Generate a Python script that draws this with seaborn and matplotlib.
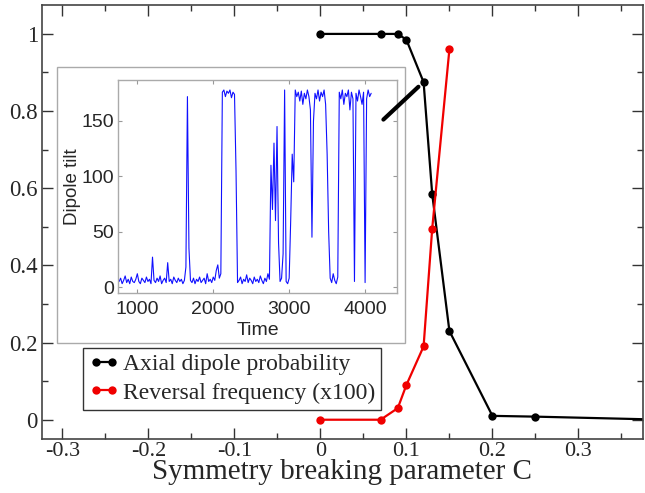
import numpy as np
import pandas as pd
import seaborn as sns
import matplotlib.pyplot as plt
from matplotlib.patches import Rectangle
from matplotlib.ticker import MultipleLocator

# main curves
c_axial = [0.0, 0.07, 0.09, 0.10, 0.12, 0.13, 0.15, 0.20, 0.25, 0.40]
p_axial = [1.0, 1.0, 1.0, 0.985, 0.875, 0.585, 0.23, 0.01, 0.008, 0.0]
c_rev = [0.0, 0.07, 0.09, 0.10, 0.12, 0.13, 0.15]
f_rev = [0.0, 0.0, 0.03, 0.09, 0.19, 0.495, 0.96]

# inset: dipole tilt sampled every 20 time units from 760 to 4080
t_start, t_step = 760, 20
tilt = [
    5, 8, 3, 6, 10, 4, 7, 3, 9, 5,
    4, 7, 12, 5, 3, 8, 6, 4, 9, 5,
    7, 3, 27, 6, 4, 8, 5, 10, 3, 6,
    8, 4, 22, 5, 7, 3, 9, 6, 4, 8,
    5, 7, 3, 6, 18, 172, 35, 6, 4, 8,
    3, 7, 5, 9, 4, 6, 8, 3, 12, 5,
    7, 4, 9, 6, 15, 20, 8, 12, 176, 178,
    172, 177, 175, 178, 171, 176, 174, 105, 4, 6,
    9, 3, 7, 5, 11, 4, 8, 6, 3, 9,
    5, 7, 4, 10, 6, 3, 8, 5, 12, 7,
    110, 70, 130, 60, 145, 40, 5, 8, 30, 178,
    5, 3, 8, 60, 120, 95, 178, 172, 176, 168,
    177, 165, 175, 170, 178, 172, 160, 45, 150, 175,
    170, 178, 168, 176, 172, 178, 165, 120, 50, 8,
    4, 12, 6, 3, 9, 176, 170, 178, 165, 175,
    172, 178, 160, 176, 170, 5, 175, 168, 178, 172,
    165, 176, 4, 170, 178, 172, 175,
]
time = t_start + t_step * np.arange(len(tilt))

df_ax = pd.DataFrame({"C": c_axial, "v": p_axial})
df_rev = pd.DataFrame({"C": c_rev, "v": f_rev})
df_tilt = pd.DataFrame({"Time": time, "tilt": tilt})

sns.set_style("ticks")
plt.rcParams["font.family"] = ["Liberation Serif", "DejaVu Serif"]
sans = ["Liberation Sans", "DejaVu Sans"]

fig = plt.figure(figsize=(6.45, 4.93), dpi=100)
ax = fig.add_axes([0.0651, 0.1095, 0.9318, 0.8804])

sns.lineplot(data=df_ax, x="C", y="v", ax=ax, color="black", marker="o",
             markersize=6, markeredgewidth=0, linewidth=1.6,
             label="Axial dipole probability")
sns.lineplot(data=df_rev, x="C", y="v", ax=ax, color="#f00000", marker="o",
             markersize=6, markeredgewidth=0, linewidth=1.6,
             label="Reversal frequency (x100)")

ax.set_xlim(-0.3235, 0.375)
ax.set_ylim(-0.05, 1.075)
ax.xaxis.set_major_locator(MultipleLocator(0.1))
ax.xaxis.set_minor_locator(MultipleLocator(0.05))
ax.yaxis.set_major_locator(MultipleLocator(0.2))
ax.yaxis.set_minor_locator(MultipleLocator(0.1))
ax.set_xticklabels([f"{v:g}" for v in ax.get_xticks()])
ax.set_yticklabels([f"{v:g}" for v in ax.get_yticks()])
ax.tick_params(which="both", direction="in", top=True, right=True,
               labelsize=16.5, color="#333333")
ax.tick_params(which="major", length=8, width=1)
ax.tick_params(which="minor", length=4, width=1)
ax.tick_params(axis="y", pad=3)
ax.tick_params(axis="x", pad=2, labelsize=16)
for s in ax.spines.values():
    s.set_color("#444444")
    s.set_linewidth(1.2)
ax.set_xlabel("Symmetry breaking parameter C", fontsize=21, labelpad=-1)
ax.set_ylabel("")

leg = ax.legend(loc="lower left", bbox_to_anchor=(0.068, 0.068),
                borderaxespad=0, fontsize=17, frameon=True, fancybox=False,
                handlelength=1.3, handletextpad=0.15, borderpad=0.25,
                labelspacing=0.28, numpoints=2)
leg.get_frame().set_edgecolor("black")
leg.get_frame().set_linewidth(1.0)
leg.set_zorder(6)

# inset frame
ax.add_patch(Rectangle((0.0884, 0.304), 0.5395, 0.560,
                       transform=fig.transFigure, facecolor="white",
                       edgecolor="#aaaaaa", linewidth=1.0, zorder=3,
                       clip_on=False))

ins = fig.add_axes([0.183, 0.4057, 0.4326, 0.432], zorder=3)
sns.lineplot(data=df_tilt, x="Time", y="tilt", ax=ins, color="#1010ff",
             linewidth=0.8)
ins.set_xlim(746, 4421)
ins.set_ylim(-5.4, 187)
ins.set_xticks([1000, 2000, 3000, 4000])
ins.set_yticks([0, 50, 100, 150])
ins.tick_params(direction="in", top=True, right=True, labelsize=14,
                length=3, color="#999999", pad=3)
ins.tick_params(axis="x", pad=6)
for lab in ins.get_xticklabels() + ins.get_yticklabels():
    lab.set_family(sans)
for s in ins.spines.values():
    s.set_color("#aaaaaa")
    s.set_linewidth(1.0)
ins.set_xlabel("Time", fontsize=14, family=sans, labelpad=3)
ins.set_ylabel("Dipole tilt", fontsize=13.5, family=sans, labelpad=0)

# pointer from inset to curve, drawn over the inset
ins.annotate("", xy=(0.114, 0.863), xytext=(0.0733, 0.778),
             xycoords=ax.transData, textcoords=ax.transData,
             annotation_clip=False,
             arrowprops=dict(arrowstyle="-", color="black", lw=3,
                             shrinkA=0, shrinkB=0, clip_on=False))

fig.savefig("out.png", dpi=100)
